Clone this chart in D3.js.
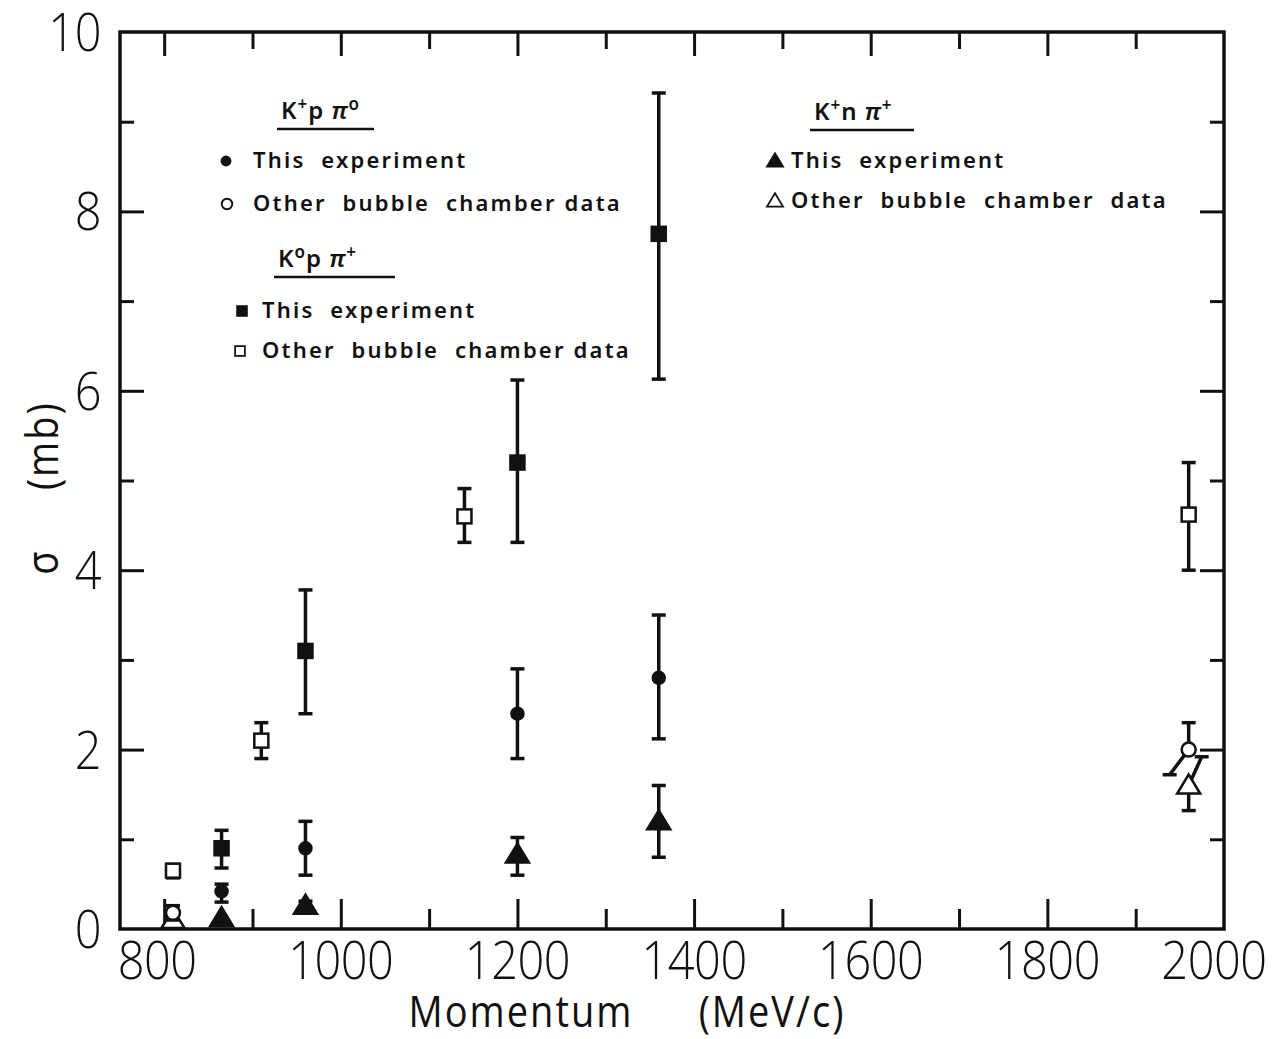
<!DOCTYPE html>
<html>
<head>
<meta charset="utf-8">
<script src="https://cdn.jsdelivr.net/npm/d3@7"></script>
<style>
  body { margin: 0; background: #fff; }
  text { fill: #111; }
  .tick-label { font-family: "Open Sans", "DejaVu Sans", sans-serif; font-weight: 300; font-size: 47px; letter-spacing: -0.5px; }
  .axis-title { font-family: "Open Sans", "DejaVu Sans", sans-serif; font-size: 38px; letter-spacing: 2px; white-space: pre; }
  .legend { font-family: "Noto Sans", "DejaVu Sans", sans-serif; font-weight: 600; font-size: 22px; letter-spacing: 2.2px; white-space: pre; }
  .legend-head { font-family: "Noto Sans", "DejaVu Sans", sans-serif; font-weight: 600; font-size: 24px; letter-spacing: 1px; white-space: pre; }
</style>
</head>
<body>
<script>
// data (sigma in mb, momentum in MeV/c)
var momentumExp = [865, 960, 1200, 1360];

var kpPi0Exp   = [0.42, 0.9, 2.4, 2.8];
var kpPi0ExpLo = [0.3, 0.6, 1.9, 2.12];
var kpPi0ExpHi = [0.5, 1.2, 2.9, 3.5];

var k0pPiExp   = [0.9, 3.1, 5.2, 7.75];
var k0pPiExpLo = [0.68, 2.4, 4.31, 6.13];
var k0pPiExpHi = [1.1, 3.78, 6.12, 9.32];

var knPiExp   = [0.12, 0.26, 0.83, 1.2];
var knPiExpLo = [0.12, 0.22, 0.6, 0.8];
var knPiExpHi = [0.12, 0.31, 1.02, 1.6];

var momentumKpPi0Other = [810, 1960];
var kpPi0Other   = [0.18, 2.0];
var kpPi0OtherLo = [0.1, 1.72];
var kpPi0OtherHi = [0.26, 2.3];

var momentumK0pPiOther = [810, 910, 1140, 1960];
var k0pPiOther   = [0.65, 2.1, 4.6, 4.62];
var k0pPiOtherLo = [0.57, 1.9, 4.31, 4.0];
var k0pPiOtherHi = [0.72, 2.3, 4.91, 5.2];

var momentumKnPiOther = [810, 1960];
var knPiOther   = [0.1, 1.6];
var knPiOtherLo = [0.1, 1.32];
var knPiOtherHi = [0.1, 1.92];

var xTicks = [800, 900, 1000, 1100, 1200, 1300, 1400, 1500, 1600, 1700, 1800, 1900];
var xLabels = [800, 1000, 1200, 1400, 1600, 1800, 2000];
var yTicks = [1, 2, 3, 4, 5, 6, 7, 8, 9];
var yLabels = [0, 2, 4, 6, 8, 10];

// global dom stuff
var width = 1285, height = 1039;
var svg = d3.select('body').append('svg')
  .attr('width', width)
  .attr('height', height);

var x = d3.scaleLinear().domain([750, 2000]).range([120, 1224]);
var y = d3.scaleLinear().domain([0, 10]).range([929, 32]);

var ink = '#111';

// frame
svg.append('rect')
  .attr('x', x.range()[0]).attr('y', y.range()[1])
  .attr('width', x.range()[1] - x.range()[0])
  .attr('height', y.range()[0] - y.range()[1])
  .attr('fill', 'none').attr('stroke', ink).attr('stroke-width', 3.5);

// ticks on all four sides, longer on the labelled values
var isMajorX = d => d % 200 === 0;
var isMajorY = d => d % 2 === 0;

var axisBottomIn = d3.axisTop(x).tickValues(xTicks).tickFormat('').tickSizeOuter(0);
var axisTopIn = d3.axisBottom(x).tickValues(xTicks).tickFormat('').tickSizeOuter(0);
var axisLeftIn = d3.axisRight(y).tickValues(yTicks).tickFormat('').tickSizeOuter(0);
var axisRightIn = d3.axisLeft(y).tickValues(yTicks).tickFormat('').tickSizeOuter(0);

function styleTicks(g, major, long, short) {
  g.select('.domain').remove();
  g.selectAll('.tick line')
    .attr('stroke', ink).attr('stroke-width', 3)
    .each(function(d) {
      var len = major(d) ? long : short;
      var l = d3.select(this);
      var y2 = +(l.attr('y2') || 0), x2 = +(l.attr('x2') || 0);
      if (y2 !== 0) l.attr('y2', Math.sign(y2) * len);
      if (x2 !== 0) l.attr('x2', Math.sign(x2) * len);
    });
}

svg.append('g').attr('transform', `translate(0,${y(0)})`).call(axisBottomIn)
  .call(g => styleTicks(g, isMajorX, 30, 20));
svg.append('g').attr('transform', `translate(0,${y(10)})`).call(axisTopIn)
  .call(g => styleTicks(g, isMajorX, 24, 17));
svg.append('g').attr('transform', `translate(${x(750)},0)`).call(axisLeftIn)
  .call(g => styleTicks(g, isMajorY, 24, 14));
svg.append('g').attr('transform', `translate(${x(2000)},0)`).call(axisRightIn)
  .call(g => styleTicks(g, isMajorY, 24, 14));

// tick labels (the lettering is taller than it is wide, so stretch a little)
svg.selectAll('.xlab').data(xLabels).join('text')
  .attr('class', 'tick-label xlab')
  .attr('transform', d => `translate(${x(d) - (d === 2000 ? 10 : d === 800 ? 7 : 0)},979) scale(1,1.12)`)
  .attr('text-anchor', 'middle')
  .text(d => d);

svg.selectAll('.ylab').data(yLabels).join('text')
  .attr('class', 'tick-label ylab')
  .attr('transform', d => `translate(101,${y(d) + 19}) scale(1,1.12)`)
  .attr('text-anchor', 'end')
  .text(d => d);

// axis titles
svg.append('text').attr('class', 'axis-title')
  .attr('transform', 'translate(521,1027) scale(1,1.15)')
  .attr('text-anchor', 'middle')
  .text('Momentum');
svg.append('text').attr('class', 'axis-title')
  .attr('transform', 'translate(772,1027) scale(1,1.15)')
  .attr('text-anchor', 'middle')
  .text('(MeV/c)');

svg.append('text').attr('class', 'axis-title')
  .attr('transform', 'translate(58,488) rotate(-90) scale(1,1.15)')
  .attr('text-anchor', 'middle')
  .text('σ     (mb)');

// markers
function marker(g, shape, filled) {
  var fill = filled ? ink : '#fff';
  if (shape === 'circle') {
    g.append('circle').attr('r', filled ? 6 : 7)
      .attr('fill', fill).attr('stroke', ink).attr('stroke-width', 2.5);
  } else if (shape === 'square') {
    g.append('rect').attr('x', -7).attr('y', -7).attr('width', 14).attr('height', 14)
      .attr('fill', fill).attr('stroke', ink).attr('stroke-width', 2.5);
  } else {
    g.append('path').attr('d', 'M0,-11L11.5,8L-11.5,8Z')
      .attr('fill', fill).attr('stroke', ink).attr('stroke-width', 2.5);
  }
}

// slanted lower/upper bars on the crowded 1960 MeV/c points
var slant = { 'kpPi0Other-1-lo': -19, 'knPiOther-1-hi': 13 };

function series(name, xs, ys, lo, hi, shape, filled) {
  var pts = xs.map((m, i) => ({ m: m, v: ys[i], lo: lo[i], hi: hi[i], key: name + '-' + i }));
  var g = svg.append('g').attr('class', name);

  pts.forEach(p => {
    var cx = x(p.m), cy = y(p.v);
    [['hi', p.hi], ['lo', p.lo]].forEach(([side, v]) => {
      if (Math.abs(v - p.v) < 0.02) return;
      var dx = slant[p.key + '-' + side] || 0;
      var ex = cx + dx, ey = y(v);
      g.append('line')
        .attr('x1', cx).attr('y1', cy).attr('x2', ex).attr('y2', ey)
        .attr('stroke', ink).attr('stroke-width', 3.5);
      g.append('line')
        .attr('x1', ex - 7).attr('x2', ex + 7).attr('y1', ey).attr('y2', ey)
        .attr('stroke', ink).attr('stroke-width', 3.5);
    });
    var mg = g.append('g').attr('transform', `translate(${cx},${cy})`);
    marker(mg, shape, filled);
  });
}

series('k0pPiExp', momentumExp, k0pPiExp, k0pPiExpLo, k0pPiExpHi, 'square', true);
series('kpPi0Exp', momentumExp, kpPi0Exp, kpPi0ExpLo, kpPi0ExpHi, 'circle', true);
series('knPiExp', momentumExp, knPiExp, knPiExpLo, knPiExpHi, 'triangle', true);
series('k0pPiOther', momentumK0pPiOther, k0pPiOther, k0pPiOtherLo, k0pPiOtherHi, 'square', false);
series('knPiOther', momentumKnPiOther, knPiOther, knPiOtherLo, knPiOtherHi, 'triangle', false);
series('kpPi0Other', momentumKpPi0Other, kpPi0Other, kpPi0OtherLo, kpPi0OtherHi, 'circle', false);

// legends
function head(x0, yy, base, sup1, mid, sup2, lineW) {
  var t = svg.append('text').attr('class', 'legend-head')
    .attr('x', x0 + 4).attr('y', yy);
  t.append('tspan').text(base);
  t.append('tspan').attr('dy', -9).attr('font-size', 17).text(sup1);
  t.append('tspan').attr('dy', 9).text(mid + ' ');
  t.append('tspan').attr('font-style', 'italic').text('π');
  t.append('tspan').attr('dy', -9).attr('font-size', 17).text(sup2);
  svg.append('line')
    .attr('x1', x0).attr('x2', x0 + lineW)
    .attr('y1', yy + 10).attr('y2', yy + 10)
    .attr('stroke', ink).attr('stroke-width', 2.5);
}

function entry(mx, tx, yy, shape, filled, label, size) {
  var g = svg.append('g').attr('transform', `translate(${mx},${yy - 7}) scale(${size})`);
  marker(g, shape, filled);
  svg.append('text').attr('class', 'legend').attr('x', tx).attr('y', yy).text(label);
}

head(277, 119, 'K', '+', 'p', 'o', 97);
entry(226, 253, 168, 'circle', true, 'This  experiment', 0.75);
entry(227, 253, 211, 'circle', false, 'Other  bubble  chamber data', 0.75);

head(274, 267, 'K', 'o', 'p', '+', 121);
entry(242, 262, 318, 'square', true, 'This  experiment', 0.7);
entry(240, 262, 358, 'square', false, 'Other  bubble  chamber data', 0.7);

head(810, 120, 'K', '+', 'n', '+', 104);
entry(775, 791, 168, 'triangle', true, 'This  experiment', 0.7);
entry(775, 791, 208, 'triangle', false, 'Other  bubble  chamber  data', 0.7);
</script>
</body>
</html>
